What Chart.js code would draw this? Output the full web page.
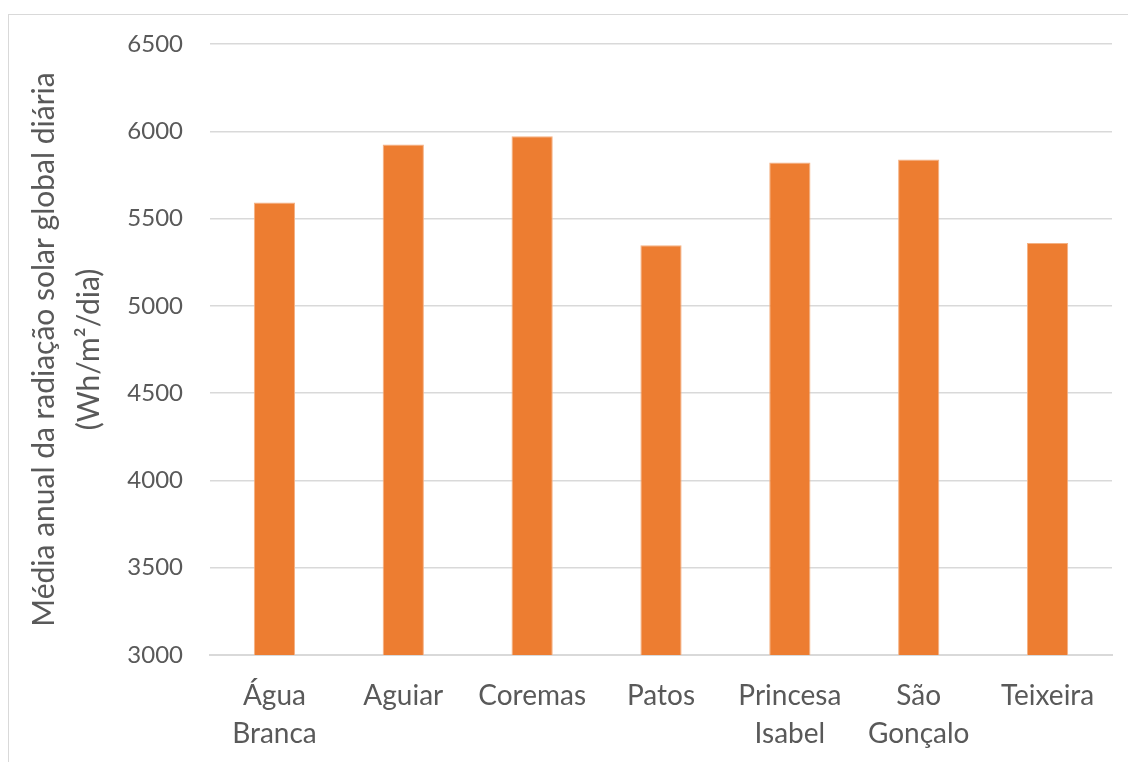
<!DOCTYPE html>
<html>
<head>
<meta charset="utf-8">
<script src="https://cdn.jsdelivr.net/npm/chart.js@4/dist/chart.umd.min.js"></script>
<style>
  html, body { margin: 0; padding: 0; background: #fff; }
  #frame { position: absolute; left: 8px; top: 14px; width: 1140px; height: 770px; border: 1px solid #d9d9d9; }
  #wrap { position: absolute; left: 0; top: 0; width: 1128px; height: 762px; }
</style>
</head>
<body>
<div id="frame"></div>
<div id="wrap"><canvas id="myChart"></canvas></div>
<script>
var cidades = ['Água Branca', 'Aguiar', 'Coremas', 'Patos', 'Princesa Isabel', 'São Gonçalo', 'Teixeira'];
var rotulos = [['Água', 'Branca'], 'Aguiar', 'Coremas', 'Patos', ['Princesa', 'Isabel'], ['São', 'Gonçalo'], 'Teixeira'];
var radiacao = [5592, 5924, 5971, 5347, 5821, 5838, 5360];
var yMin = 3000, yMax = 6500, yPasso = 500;

var ctx = document.getElementById('myChart').getContext('2d');

var myChart = new Chart(ctx, {
    type: 'bar',
    data: {
        labels: rotulos,
        datasets: [{
            label: 'Radiação',
            data: radiacao,
            backgroundColor: '#ed7d31',
            borderColor: '#f4b183',
            borderWidth: 1,
            categoryPercentage: 1,
            barPercentage: 0.32
        }]
    },
    options: {
        responsive: true,
        maintainAspectRatio: false,
        animation: false,
        layout: { padding: { left: 0, right: 16, top: 44, bottom: 0 } },
        plugins: {
            legend: { display: false },
            tooltip: { enabled: false }
        },
        scales: {
            x: {
                grid: { display: false, drawTicks: false },
                border: { display: true, color: '#d9d9d9', width: 2 },
                ticks: {
                    color: '#595959',
                    font: { family: 'Lato', size: 28, lineHeight: 1.35 },
                    padding: 22,
                    maxRotation: 0,
                    autoSkip: false
                },
                afterFit: function (axis) { axis.height = 107; }
            },
            y: {
                min: yMin,
                max: yMax,
                grid: { color: '#d9d9d9', lineWidth: 1.5, drawTicks: false },
                border: { display: false },
                ticks: {
                    stepSize: yPasso,
                    color: '#595959',
                    font: { family: 'Lato', size: 24 },
                    padding: 27,
                    callback: function (v) { return String(v); }
                },
                title: {
                    display: true,
                    text: ['Média anual da radiação solar global diária', '(Wh/m²/dia)'],
                    color: '#595959',
                    font: { family: 'Lato', size: 30, lineHeight: 1.5 },
                    padding: { top: 22, bottom: 10 }
                },
                afterFit: function (axis) { axis.width = 210; }
            }
        }
    }
});
</script>
</body>
</html>
